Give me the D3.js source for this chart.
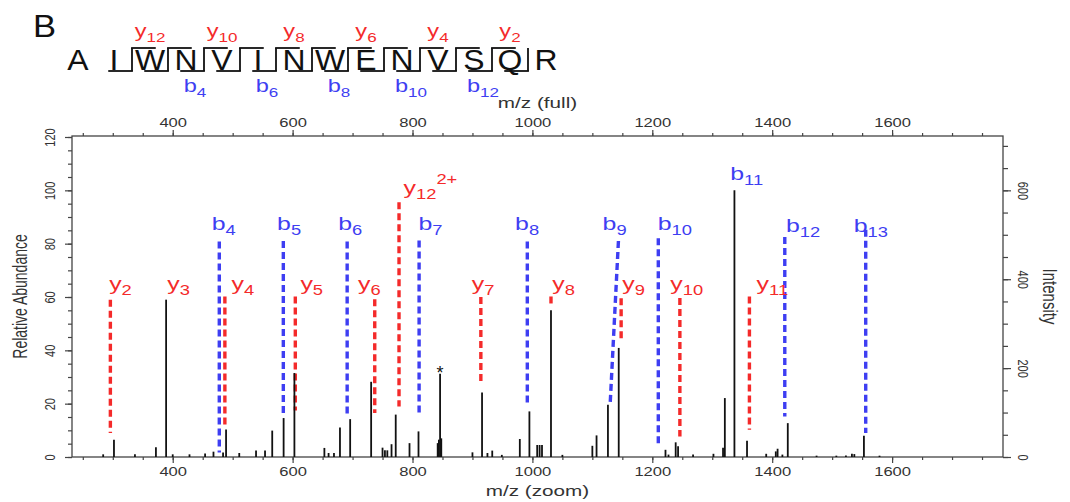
<!DOCTYPE html>
<html>
<head>
<meta charset="utf-8">
<script src="https://cdn.jsdelivr.net/npm/d3@7"></script>
<style>
body { margin: 0; background: #fff; }
text { font-family: "Liberation Sans", Arial, sans-serif; }
</style>
</head>
<body>
<div id="chart"></div>
<script>
// peptide sequence and the cleavage sites (after residue n) with a y / b hook
let residues = ["A", "I", "W", "N", "V", "I", "N", "W", "E", "N", "V", "S", "Q", "R"];
let ySites = [2, 3, 4, 5, 6, 7, 8, 9, 10, 11, 12];
let bSites = [2, 3, 4, 5, 6, 7, 8, 9, 10, 11, 12, 13];
let seqYLabels = [[2, "12"], [4, "10"], [6, "8"], [8, "6"], [10, "4"], [12, "2"]];
let seqBLabels = [[4, "4"], [6, "6"], [8, "8"], [10, "10"], [12, "12"]];

// spectrum sticks (m/z, relative abundance)
let peakMz = [284, 302, 337, 372, 389, 400, 428, 454, 468, 484, 489, 511, 539, 554, 566, 585, 603,
    653, 660, 669, 679, 696, 731, 750, 754, 758, 765, 772, 795, 810, 842, 844, 846, 848,
    900, 916, 925, 933, 949, 979, 995, 1008, 1012, 1016, 1031, 1050, 1100, 1107, 1126, 1144,
    1222, 1227, 1239, 1243, 1268, 1302, 1318, 1321, 1337, 1358, 1390, 1406, 1409, 1417, 1426,
    1474, 1507, 1523, 1533, 1537, 1553, 1579];
let peakAbund = [1, 6.5, 1, 3.7, 59, 1, 1, 1.3, 2, 1.7, 10.3, 1.5, 2.4, 2.4, 9.9, 14.6, 31.5,
    3.4, 1.5, 1.5, 11.1, 14.2, 28.2, 3.5, 2.5, 2.5, 4.8, 15.9, 5.2, 9.6, 5.2, 6.5, 31.2, 7,
    1.75, 24.2, 1.5, 2.4, 0.8, 6.75, 17.1, 4.5, 4.5, 4.5, 55, 0.8, 4.2, 8.1, 19.6, 40.9,
    2.7, 0.9, 5.5, 4, 0.9, 1.2, 3.5, 22.1, 100, 6.1, 1.2, 2.1, 3.1, 0.9, 12.7,
    0.5, 0.5, 0.6, 1.2, 1.1, 8, 0.5];

// annotated ions: dashed marker from top to bottom (abundance), label anchor in data units
let yIons = [
    {n: "2", mz: 296, top: 59, bottom: 9, labelMz: 294, labelAt: 62.5},
    {n: "3", mz: null, labelMz: 391, labelAt: 62.5},
    {n: "4", mz: 487, top: 60.2, bottom: 10.9, labelMz: 498, labelAt: 62.5},
    {n: "5", mz: 604.5, top: 60.2, bottom: 17.4, labelMz: 613, labelAt: 62.5},
    {n: "6", mz: 737, top: 59.2, bottom: 16.5, labelMz: 709, labelAt: 62.5},
    {n: "7", mz: 914, top: 60, bottom: 28.1, labelMz: 899, labelAt: 62.5},
    {n: "8", mz: 1031, top: 60.2, bottom: 57.5, labelMz: 1033, labelAt: 62.5},
    {n: "9", mz: 1148, top: 59.5, bottom: 43.5, labelMz: 1150, labelAt: 62.5},
    {n: "10", mz: 1246, top: 59.6, bottom: 7.7, labelMz: 1230, labelAt: 62.5},
    {n: "11", mz: 1362, top: 60.2, bottom: 10.2, labelMz: 1374, labelAt: 62.5},
    {n: "12", sup: "2+", mz: 777.5, top: 95.5, bottom: 18.9, labelMz: 785, labelAt: 98.5}
];
let bIons = [
    {n: "4", mz: 477.7, top: 80.8, bottom: 1.7, labelMz: 465, labelAt: 85},
    {n: "5", mz: 584.5, top: 81, bottom: 15.9, labelMz: 574, labelAt: 85},
    {n: "6", mz: 691, top: 80.8, bottom: 15.9, labelMz: 676, labelAt: 85},
    {n: "7", mz: 811, top: 81.2, bottom: 16.2, labelMz: 810, labelAt: 85},
    {n: "8", mz: 991.5, top: 80.8, bottom: 20.4, labelMz: 971, labelAt: 85},
    {n: "9", mz: 1143.5, mzBottom: 1129.6, top: 81, bottom: 19.4, labelMz: 1117, labelAt: 85},
    {n: "10", mz: 1210, top: 82, bottom: 4.2, labelMz: 1209, labelAt: 85},
    {n: "11", mz: null, labelMz: 1330, labelAt: 104},
    {n: "12", mz: 1421, top: 82.5, bottom: 15.2, labelMz: 1423, labelAt: 84.5},
    {n: "13", mz: 1556, top: 85.2, bottom: 9, labelMz: 1536, labelAt: 84.5}
];
let starPeak = 846;

let xTicks = [400, 600, 800, 1000, 1200, 1400, 1600];
let leftTicks = [0, 20, 40, 60, 80, 100, 120];
let rightTicks = [0, 200, 400, 600];

const W = 1070, H = 502;
const sx = 1.38;   // the source picture is stretched sideways
const red = "#f42a2a", blue = "#3e3ef2", ink = "#333";

const svg = d3.select("#chart").append("svg")
    .attr("width", W)
    .attr("height", H);

const plot = {left: 72, right: 1003, top: 136, bottom: 457};

const x = d3.scaleLinear().domain([232, 1785]).range([plot.left, plot.right]);
const yL = d3.scaleLinear().domain([0, 120]).range([plot.bottom, 137]);
const yR = d3.scaleLinear().domain([0, 720]).range([plot.bottom, 137]);
const fmt = d3.format("d");

function tidy(g) {
    g.select(".domain").remove();
    g.attr("font-family", "Liberation Sans, Arial, sans-serif").attr("font-size", 12);
    g.selectAll("line").attr("stroke", "#444").attr("stroke-width", 1.2);
    g.selectAll("text").attr("fill", ink);
}

//top axis (full)
svg.append("g").attr("transform", "translate(0," + plot.top + ")")
    .call(d3.axisTop(x).tickValues(d3.range(250, 1800, 50)).tickSize(3).tickFormat(""))
    .call(tidy);
svg.append("g").attr("transform", "translate(0," + plot.top + ")")
    .call(d3.axisTop(x).tickValues(xTicks).tickSize(6).tickPadding(3).tickFormat(fmt))
    .call(tidy)
    .selectAll("text").attr("transform", "scale(" + sx + ",1)");

//bottom axis (zoom)
svg.append("g").attr("transform", "translate(0," + plot.bottom + ")")
    .call(d3.axisBottom(x).tickValues(d3.range(250, 1800, 50)).tickSize(3).tickFormat(""))
    .call(tidy);
svg.append("g").attr("transform", "translate(0," + plot.bottom + ")")
    .call(d3.axisBottom(x).tickValues(xTicks).tickSize(6).tickPadding(4).tickFormat(fmt))
    .call(tidy)
    .selectAll("text").attr("transform", "scale(" + sx + ",1)");

//left axis
svg.append("g").attr("transform", "translate(" + plot.left + ",0)")
    .call(d3.axisLeft(yL).tickValues(d3.range(0, 121, 5)).tickSize(4).tickFormat(""))
    .call(tidy);
svg.append("g").attr("transform", "translate(" + plot.left + ",0)")
    .call(d3.axisLeft(yL).tickValues(leftTicks).tickSize(7).tickFormat(fmt))
    .call(tidy)
    .selectAll("text")
    .attr("x", null).attr("dy", null)
    .attr("font-size", 11)
    .attr("text-anchor", "middle")
    .attr("transform", "translate(-17,0) rotate(-90) scale(1," + sx + ")");

//right axis
svg.append("g").attr("transform", "translate(" + plot.right + ",0)")
    .call(d3.axisRight(yR).tickValues(d3.range(0, 701, 50)).tickSize(5).tickFormat(""))
    .call(tidy);
svg.append("g").attr("transform", "translate(" + plot.right + ",0)")
    .call(d3.axisRight(yR).tickValues(rightTicks).tickSize(8).tickFormat(fmt))
    .call(tidy)
    .selectAll("text")
    .attr("x", null).attr("dy", null)
    .attr("font-size", 11)
    .attr("text-anchor", "middle")
    .attr("transform", "translate(15,0) rotate(90) scale(1," + sx + ")");

//frame
svg.append("rect")
    .attr("x", plot.left).attr("y", plot.top)
    .attr("width", plot.right - plot.left).attr("height", plot.bottom - plot.top)
    .attr("fill", "none").attr("stroke", "#444").attr("stroke-width", 1.3);

//axis titles
svg.append("text")
    .attr("transform", "translate(" + (plot.left + plot.right) / 2 + ",108) scale(" + sx + ",1)")
    .attr("text-anchor", "middle").attr("font-size", 15).attr("fill", ink)
    .text("m/z (full)");
svg.append("text")
    .attr("transform", "translate(" + (plot.left + plot.right) / 2 + ",496) scale(" + sx + ",1)")
    .attr("text-anchor", "middle").attr("font-size", 15).attr("fill", ink)
    .text("m/z (zoom)");
svg.append("text")
    .attr("transform", "translate(27," + (plot.top + plot.bottom) / 2 + ") rotate(-90) scale(1," + sx + ")")
    .attr("text-anchor", "middle").attr("font-size", 14).attr("fill", ink)
    .text("Relative Abundance");
svg.append("text")
    .attr("transform", "translate(1043," + (plot.top + plot.bottom) / 2 + ") rotate(90) scale(1," + sx + ")")
    .attr("text-anchor", "middle").attr("font-size", 15).attr("fill", ink)
    .text("Intensity");

//dashed ion markers
let marked = yIons.map(d => Object.assign({color: red}, d))
    .concat(bIons.map(d => Object.assign({color: blue}, d)))
    .filter(d => d.mz != null);

svg.selectAll(".ion-line").data(marked).join("line")
    .attr("class", "ion-line")
    .attr("x1", d => x(d.mz))
    .attr("x2", d => x(d.mzBottom || d.mz))
    .attr("y1", d => yL(d.top))
    .attr("y2", d => yL(d.bottom))
    .attr("stroke", d => d.color)
    .attr("stroke-width", 3.4)
    .attr("stroke-dasharray", "7,4");

//sticks
svg.selectAll(".peak").data(d3.zip(peakMz, peakAbund)).join("line")
    .attr("class", "peak")
    .attr("x1", d => x(d[0])).attr("x2", d => x(d[0]))
    .attr("y1", yL(0)).attr("y2", d => yL(d[1]))
    .attr("stroke", "#111")
    .attr("stroke-width", 1.8);

//ion labels
function ionLabel(parent, letter, n, sup, color, size, subSize) {
    let t = parent.append("text").attr("fill", color).attr("font-size", size);
    t.append("tspan").text(letter);
    t.append("tspan").attr("font-size", subSize).attr("dy", 5).text(n);
    if (sup) {
        t.append("tspan").attr("font-size", subSize).attr("dy", -15).text(sup);
    }
    return t;
}

yIons.forEach(d => {
    ionLabel(svg, "y", d.n, d.sup, red, 19, 14)
        .attr("transform", "translate(" + x(d.labelMz) + "," + yL(d.labelAt) + ") scale(" + sx * 0.95 + ",1)");
});
bIons.forEach(d => {
    ionLabel(svg, "b", d.n, null, blue, 19, 14)
        .attr("transform", "translate(" + x(d.labelMz) + "," + yL(d.labelAt) + ") scale(" + sx * 0.95 + ",1)");
});

let starAbund = peakAbund[peakMz.indexOf(starPeak)];
svg.append("text")
    .attr("transform", "translate(" + x(starPeak) + "," + (yL(starAbund) + 5) + ")")
    .attr("text-anchor", "middle").attr("font-size", 18).attr("fill", "#111")
    .text("*");

//panel letter
svg.append("text")
    .attr("transform", "translate(33,37) scale(1.08,1)")
    .attr("font-size", 32).attr("fill", "#111")
    .text("B");

//sequence with fragment hooks, residues on an even grid
const seq = svg.append("g").attr("class", "sequence");
const seqSx = 1.1, seqBase = 69.5;
const pos = d3.scalePoint().domain(d3.range(residues.length)).range([78, 546]);
const step = pos.step();

seq.selectAll(".res").data(residues).join("text")
    .attr("class", "res")
    .attr("font-size", 29)
    .attr("fill", "#111")
    .attr("text-anchor", "middle")
    .attr("transform", (d, i) => "translate(" + pos(i) + "," + seqBase + ") scale(" + seqSx + ",1)")
    .text(d => d);

// site n sits between residue n and n+1 (1-based)
function siteX(n) { return pos(n - 1) + step / 2; }
const hookTop = 48, hookBottom = 71, hookLen = step * 0.66;

let sites = Array.from(new Set(ySites.concat(bSites))).sort((a, b) => a - b);
seq.selectAll(".site").data(sites).join("line")
    .attr("class", "site")
    .attr("x1", n => siteX(n)).attr("x2", n => siteX(n))
    .attr("y1", hookTop).attr("y2", hookBottom)
    .attr("stroke", "#111").attr("stroke-width", 1.8);

seq.selectAll(".yhook").data(ySites).join("line")
    .attr("class", "yhook")
    .attr("x1", n => siteX(n) - 0.9)
    .attr("x2", n => siteX(n) + hookLen)
    .attr("y1", hookTop).attr("y2", hookTop)
    .attr("stroke", "#111").attr("stroke-width", 1.8);

seq.selectAll(".bhook").data(bSites).join("line")
    .attr("class", "bhook")
    .attr("x1", n => siteX(n) + 0.9)
    .attr("x2", n => siteX(n) - hookLen)
    .attr("y1", hookBottom).attr("y2", hookBottom)
    .attr("stroke", "#111").attr("stroke-width", 1.8);

seqYLabels.forEach(d => {
    ionLabel(seq, "y", d[1], null, red, 18, 13)
        .attr("text-anchor", "middle")
        .attr("transform", "translate(" + pos(d[0]) + ",37) scale(" + sx * 0.95 + ",1)");
});
seqBLabels.forEach(d => {
    ionLabel(seq, "b", d[1], null, blue, 18, 13)
        .attr("text-anchor", "middle")
        .attr("transform", "translate(" + (pos(d[0] - 1) + 9) + ",92) scale(" + sx * 0.95 + ",1)");
});
</script>
</body>
</html>
